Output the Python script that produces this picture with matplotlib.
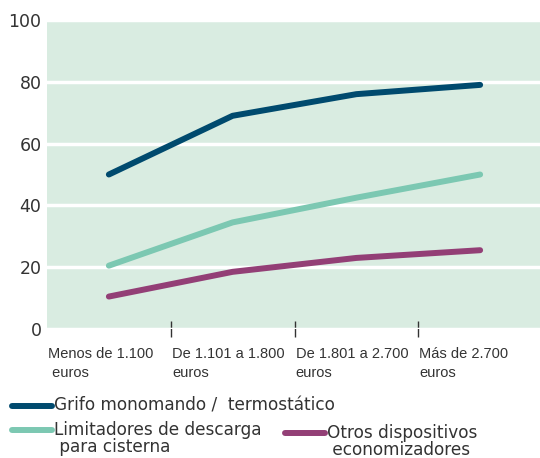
import matplotlib
matplotlib.use("Agg")
import matplotlib.pyplot as plt
from matplotlib.lines import Line2D

categories = ["Menos de 1.100\n euros", "De 1.101 a 1.800\neuros",
              "De 1.801 a 2.700\neuros", "Más de 2.700\neuros"]
grifo = [50, 69, 76, 79]
limitadores = [20.5, 34.5, 42.5, 50]
otros = [10.5, 18.5, 23, 25.5]

series_names = ["Grifo monomando /  termostático",
                "Limitadores de descarga\n para cisterna",
                "Otros dispositivos\n economizadores"]
colors = ["#004a6e", "#7cc8b2", "#933f76"]
bg = "#d9ece1"
txt = "#333333"

plt.rcParams["font.family"] = ["DejaVu Sans"]

fig = plt.figure(figsize=(5.4, 4.58), dpi=100)
ax = fig.add_axes([47 / 540, 1 - 329 / 458, 495 / 540, 309 / 458])
ax.set_facecolor(bg)

x = list(range(len(categories)))
for vals, c in zip([grifo, limitadores, otros], colors):
    ax.plot(x, vals, color=c, lw=4.3, solid_capstyle="round", solid_joinstyle="round")

ax.set_xlim(-0.5, 3.5)
ax.set_ylim(0, 100)
ax.set_yticks([0, 20, 40, 60, 80, 100])
ax.tick_params(axis="y", length=0, labelsize=12.5, labelcolor=txt, pad=4)
ax.grid(axis="y", color="white", lw=2.5)
ax.set_axisbelow(True)
for s in ax.spines.values():
    s.set_visible(False)

ax.set_xticks([0.5, 1.5, 2.5])
ax.set_xticklabels([])
ax.tick_params(axis="x", direction="inout", length=11, width=1, color="#333333")

for i, lab in enumerate(categories):
    ax.text(i - 0.49, -5.8, lab, ha="left", va="top", fontsize=10.5,
            color=txt, family="Liberation Sans", linespacing=1.45,
            transform=ax.transData, clip_on=False)

def legend_item(x0, y0, color, label):
    fig.add_artist(Line2D([x0 / 540, (x0 + 40) / 540], [1 - y0 / 458, 1 - y0 / 458],
                          color=color, lw=4.3, solid_capstyle="round"))
    fig.text((x0 + 42) / 540, 1 - (y0 - 9) / 458, label, ha="left", va="top",
             fontsize=12.2, color=txt, linespacing=0.9)

legend_item(12, 406, colors[0], series_names[0])
legend_item(12, 430, colors[1], series_names[1])
legend_item(285, 433, colors[2], series_names[2])

fig.savefig("out.png", dpi=100)
